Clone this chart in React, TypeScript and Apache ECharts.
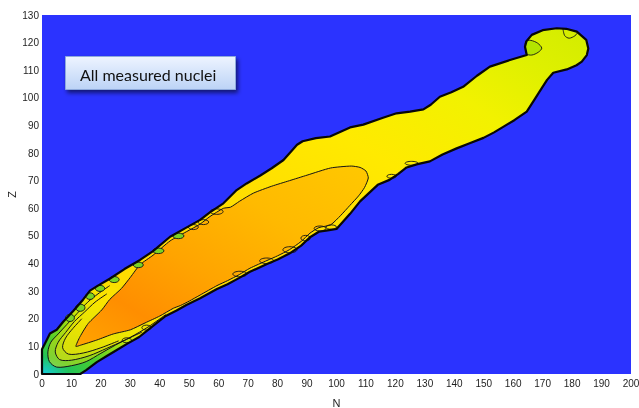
import React, { useEffect, useRef } from "react";
import * as echarts from "echarts";

type Pt = [number, number];

const BLUE = "#2B33FF";

// Axis ranges / ticks
const xRange: Pt = [0, 200];
const yRange: Pt = [0, 130];
const xStep = 10;
const yStep = 10;

// Outer boundary of measured nuclei (N, Z): lower edge, bulb, upper edge
const outerBoundary: Pt[] = [
  [0, 0], [13, 0], [15, 1.4], [18.6, 4.3], [22, 6.5], [25.4, 8.7], [29, 11], [33, 13.4],
  [36, 16], [39, 18.5], [42, 21], [45.7, 23], [49, 25], [53.7, 27.4], [59.4, 30.8],
  [63, 32.5], [67, 34.8], [70.6, 37], [76.4, 39.8], [80, 41.5], [84, 43.6], [88, 46.5],
  [91, 49.5], [94, 51.5], [97, 52], [100, 52.5], [104.6, 58], [108, 62.5], [111, 65.5],
  [114, 68.5], [118, 70.3], [121, 72.5], [123.8, 74.8], [127.5, 76], [131.7, 77],
  [136, 79.5], [140.8, 81.7], [145, 83.5], [149.9, 85.5], [153.5, 87.5], [156.6, 89.5],
  [160.5, 92], [164.6, 95], [167, 99], [169.7, 103.5], [171.5, 106.5], [173.6, 109.1],
  [178.2, 110.3], [181.5, 111.8], [183.3, 113.1], [185, 115.5], [185.5, 117.9],
  [184.8, 121], [181.6, 124], [178, 125], [174.8, 125.2], [170, 124.5], [166.3, 122.8],
  [164.5, 120.5], [164, 118.5], [164.6, 115.5],
  [158.9, 113.7], [152.1, 111.3], [147.7, 108], [143, 104], [139, 102], [135.1, 100.4],
  [132, 97.5], [129.5, 95.8], [125, 95], [120.4, 94.4], [115.8, 92.8], [109.1, 90.3],
  [104.6, 89.3], [97.8, 86], [93, 85.4], [88.5, 84.3], [86.6, 83], [84.5, 80.5], [82, 77.5],
  [78, 74.5], [74, 71.8], [69.5, 69], [66.1, 66.6], [61.6, 61.8], [57, 58.5], [53.7, 55.8],
  [49, 53], [43.5, 49.7], [37.7, 44.5], [33.3, 41.3], [28, 38], [23, 34.5], [19, 32],
  [16.3, 30.2], [14, 27], [10.6, 22.8], [7.2, 18.9], [5, 16], [2.7, 14.7], [0.5, 10], [0, 9],
];

// Inner (orange) contour
const innerContour: Pt[] = [
  [11.5, 10], [13, 10.4], [18.6, 12.3], [24.2, 14.5], [30, 16], [35, 18.5], [40, 21],
  [44.6, 23.8], [47, 24.8], [50, 26.4], [53.7, 28.6], [59.4, 32], [63, 33.8], [67, 36],
  [70.6, 38.3], [76.4, 41.1], [80, 42.8], [84, 45], [88, 48], [91, 51], [94, 53], [98, 54],
  [101.5, 57.5], [104.5, 61], [107.5, 64.5], [109.5, 67.5], [110.8, 71], [110, 73.5],
  [108, 74.8], [105, 75.3], [98, 74.6], [90, 72], [84, 70], [78, 68], [71.8, 65.5],
  [67, 62.5], [64, 60.4], [61.6, 60], [57, 57], [53.7, 54.3], [49, 51.5], [43.5, 48.2],
  [37.7, 43], [33.3, 39.6], [30, 35], [27, 31], [23, 27], [20.3, 23.2], [15.7, 18.3],
  [12.9, 13.5],
];

// Intermediate contours fanning out of the origin
const fanContour1: Pt[] = [
  [42, 21.5], [36, 17], [30, 13.3], [25, 10.5], [20, 7.5], [15, 4.5], [10, 3], [5, 2.5],
  [2.5, 4.5], [2, 8], [3, 11.5], [5.5, 14.5], [8.5, 18], [12, 22], [15.5, 26], [19, 29], [23, 32],
];
const fanContour2: Pt[] = [
  [34, 15.2], [28, 12.2], [22, 9.3], [16, 6.6], [10, 5], [6, 5.2], [4.5, 8], [5.5, 11.5],
  [8, 15], [11, 19], [14.5, 22.5], [18, 26], [22, 29],
];
const fanContour3: Pt[] = [
  [26, 12], [20, 9.5], [14, 7.6], [9, 7.2], [7, 9.5], [8, 13], [10.5, 16.5], [13.5, 20],
];

// Small closed contours [N, Z, halfWidthN, halfHeightZ]
const greenLoops: [number, number, number, number][] = [
  [9.5, 20.3, 1.5, 1.3], [13, 24, 1.6, 1.3], [16.3, 28.2, 1.5, 1.2], [19.7, 31, 1.6, 1.1],
  [24.5, 34.2, 1.7, 1.1], [32.7, 39.5, 1.7, 1.0], [39.5, 44.6, 1.9, 1.0], [46.3, 50, 1.9, 1.0],
];
const plainLoops: [number, number, number, number][] = [
  [51.4, 53.2, 1.7, 0.9], [54.8, 55, 1.8, 0.9], [59.3, 58.8, 2.2, 1.0],
  [67.2, 36.2, 2.4, 1.0], [76.3, 41.0, 2.4, 1.0], [84.2, 45, 2.4, 1.1], [89.5, 49.2, 1.6, 1.0],
  [94.4, 52.7, 2.0, 0.9], [98.2, 53.2, 1.8, 0.8], [118.7, 71.6, 1.6, 0.7], [125.5, 76.3, 2.2, 0.7],
  [28.8, 12.2, 1.6, 0.9], [35.5, 16.8, 1.6, 0.9],
];
const bulbLens: Pt[] = [
  [164.2, 120.5], [166, 120.8], [168.3, 119.8], [169.7, 118], [168.5, 116.5], [166.3, 115.5], [164.5, 116],
];
const bulbTopLine: Pt[] = [
  [176.9, 125], [177.5, 122.5], [179, 121.6], [181, 122.5], [182, 123.8],
];

const legendText = "All measured nuclei";

export default function App() {
  const ref = useRef<HTMLDivElement>(null);

  useEffect(() => {
    if (!ref.current) return;
    const chart = echarts.init(ref.current, null, { renderer: "svg" });

    const outerFill = new echarts.graphic.RadialGradient(0, 1, 1.42, [
      { offset: 0, color: "#16CCE0" },
      { offset: 0.035, color: "#22C45A" },
      { offset: 0.07, color: "#48CC2E" },
      { offset: 0.1, color: "#86DA18" },
      { offset: 0.13, color: "#C6E60A" },
      { offset: 0.17, color: "#F4E400" },
      { offset: 0.22, color: "#FFDC00" },
      { offset: 0.45, color: "#FFDE00" },
      { offset: 0.62, color: "#FFEA00" },
      { offset: 0.78, color: "#F2F200" },
      { offset: 0.9, color: "#DEF000" },
      { offset: 1, color: "#D2EC00" },
    ]);
    const innerFill = new echarts.graphic.LinearGradient(0, 1, 1, 0, [
      { offset: 0, color: "#FFA400" },
      { offset: 0.2, color: "#FF8E00" },
      { offset: 0.42, color: "#FFA400" },
      { offset: 0.7, color: "#FFBA00" },
      { offset: 1, color: "#FFC800" },
    ]);

    const LINE = "#141414";
    const fans = [fanContour1, fanContour2, fanContour3];

    const renderItem = (_params: any, api: any) => {
      const P = (arr: Pt[]) => arr.map((p) => api.coord([p[0], p[1]]));
      const children: any[] = [];
      children.push({ type: "polygon", shape: { points: P(outerBoundary) }, style: { fill: outerFill } });
      fans.forEach((f) =>
        children.push({ type: "polygon", shape: { points: P(f), smooth: 0.3 }, style: { fill: "rgba(255,228,0,0.42)" } })
      );
      children.push({
        type: "polygon",
        shape: { points: P(bulbLens), smooth: 0.3 },
        style: { fill: "#B4E400", stroke: LINE, lineWidth: 0.9 },
      });
      children.push({
        type: "polyline",
        shape: { points: P(bulbTopLine), smooth: 0.3 },
        style: { fill: "none", stroke: LINE, lineWidth: 0.9 },
      });
      children.push({
        type: "polygon",
        shape: { points: P(innerContour), smooth: 0.2 },
        style: { fill: innerFill, stroke: LINE, lineWidth: 1 },
      });
      fans.forEach((f) =>
        children.push({ type: "polyline", shape: { points: P(f), smooth: 0.3 }, style: { fill: "none", stroke: LINE, lineWidth: 1 } })
      );
      const loop = (l: [number, number, number, number], fill: string) => {
        const c = api.coord([l[0], l[1]]);
        const s = api.size([l[2], l[3]]);
        children.push({
          type: "ellipse",
          shape: { cx: c[0], cy: c[1], rx: s[0], ry: s[1] },
          style: { fill, stroke: LINE, lineWidth: 0.9 },
        });
      };
      greenLoops.forEach((l) => loop(l, "#7AD424"));
      plainLoops.forEach((l) => loop(l, "none"));
      children.push({
        type: "polygon",
        shape: { points: P(outerBoundary) },
        style: { fill: "none", stroke: "#080808", lineWidth: 2.2, lineJoin: "round" },
      });
      return { type: "group", children };
    };

    const labelStyle = { fontSize: 10, color: "#1E1E1E", fontFamily: "Liberation Sans, Arial, sans-serif" };

    chart.setOption({
      animation: false,
      grid: {
        left: 42,
        right: 8,
        top: 15,
        bottom: 34,
        containLabel: false,
        outerBoundsMode: "none",
        show: true,
        backgroundColor: BLUE,
        borderWidth: 0,
      },
      xAxis: {
        type: "value",
        min: xRange[0],
        max: xRange[1],
        interval: xStep,
        name: "N",
        nameLocation: "middle",
        nameGap: 23,
        nameMoveOverlap: false,
        nameTextStyle: { ...labelStyle, fontSize: 11 },
        axisLine: { show: false },
        axisTick: { show: false },
        splitLine: { show: false },
        axisLabel: { ...labelStyle, margin: 4 },
      },
      yAxis: {
        type: "value",
        min: yRange[0],
        max: yRange[1],
        interval: yStep,
        name: "Z",
        nameLocation: "middle",
        nameGap: 25,
        nameMoveOverlap: false,
        nameTextStyle: { ...labelStyle, fontSize: 11 },
        axisLine: { show: false },
        axisTick: { show: false },
        splitLine: { show: false },
        axisLabel: { ...labelStyle, margin: 3 },
      },
      graphic: [
        {
          type: "rect",
          left: 65,
          top: 56,
          z: 10,
          shape: { width: 170, height: 33 },
          style: {
            fill: new echarts.graphic.LinearGradient(0, 0, 0, 1, [
              { offset: 0, color: "#EEF4FF" },
              { offset: 1, color: "#BCD3F6" },
            ]),
            stroke: "#8EAADC",
            lineWidth: 1,
            shadowBlur: 4,
            shadowOffsetX: 2,
            shadowOffsetY: 3,
            shadowColor: "rgba(0,0,0,0.55)",
          },
        },
        {
          type: "text",
          x: 80,
          y: 74.5,
          z: 11,
          style: {
            text: legendText,
            font: "16px Lato, 'Open Sans', sans-serif",
            fill: "#111",
            verticalAlign: "middle",
            align: "left",
          },
        },
      ],
      series: [
        {
          type: "custom",
          coordinateSystem: "cartesian2d",
          silent: true,
          data: [[0, 0]],
          renderItem,
        },
      ],
    });

    return () => chart.dispose();
  }, []);

  return <div ref={ref} style={{ position: "fixed", left: 0, top: 0, width: 639, height: 408 }} />;
}
